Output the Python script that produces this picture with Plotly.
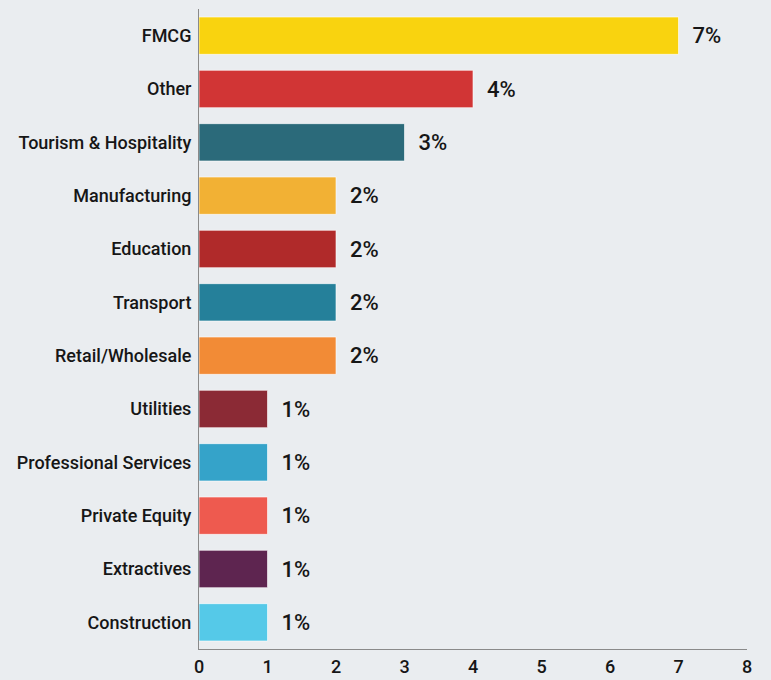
import plotly.graph_objects as go

# Share of respondents by sector (%)
sectors = [
    "FMCG", "Other", "Tourism & Hospitality", "Manufacturing", "Education",
    "Transport", "Retail/Wholesale", "Utilities", "Professional Services",
    "Private Equity", "Extractives", "Construction",
]
shares = [7, 4, 3, 2, 2, 2, 2, 1, 1, 1, 1, 1]
bar_colors = [
    "#F9D30F", "#D13535", "#2B6A7A", "#F2B134", "#B02A2A", "#25809A",
    "#F28B36", "#8B2A35", "#35A3C9", "#EE5A4F", "#5E2550", "#55C9E8",
]
x_ticks = [0, 1, 2, 3, 4, 5, 6, 7, 8]

FONT = "Roboto, sans-serif"
BG = "#EAEDF0"
INK = "#161616"

fig = go.Figure(
    go.Bar(
        x=shares,
        y=sectors,
        orientation="h",
        marker=dict(color=bar_colors, line=dict(color="rgba(255,255,255,0.6)", width=1)),
        text=[f"\u00a0\u00a0{v}%" for v in shares],
        textposition="outside",
        textfont=dict(family=FONT, size=22, color=INK, weight=500),
        cliponaxis=False,
        hoverinfo="skip",
    )
)

fig.update_layout(
    width=771,
    height=680,
    margin=dict(l=199, r=24, t=9, b=31, autoexpand=False),
    paper_bgcolor=BG,
    plot_bgcolor=BG,
    bargap=0.3,
    showlegend=False,
    font=dict(family=FONT, size=18, color=INK),
)
fig.update_xaxes(
    range=[0, 8],
    tickvals=x_ticks,
    showgrid=False,
    zeroline=False,
    showline=True,
    linecolor="#8a8a8a",
    linewidth=1,
    ticks="",
    automargin=False,
    ticklabelstandoff=1,
    tickfont=dict(family=FONT, size=18, color=INK, weight=500),
)
fig.update_yaxes(
    autorange="reversed",
    showgrid=False,
    showline=True,
    linecolor="#8a8a8a",
    linewidth=1,
    ticks="",
    automargin=False,
    ticklabelstandoff=3,
    tickfont=dict(family=FONT, size=18, color=INK, weight=500),
)

fig.write_html("out.html")
